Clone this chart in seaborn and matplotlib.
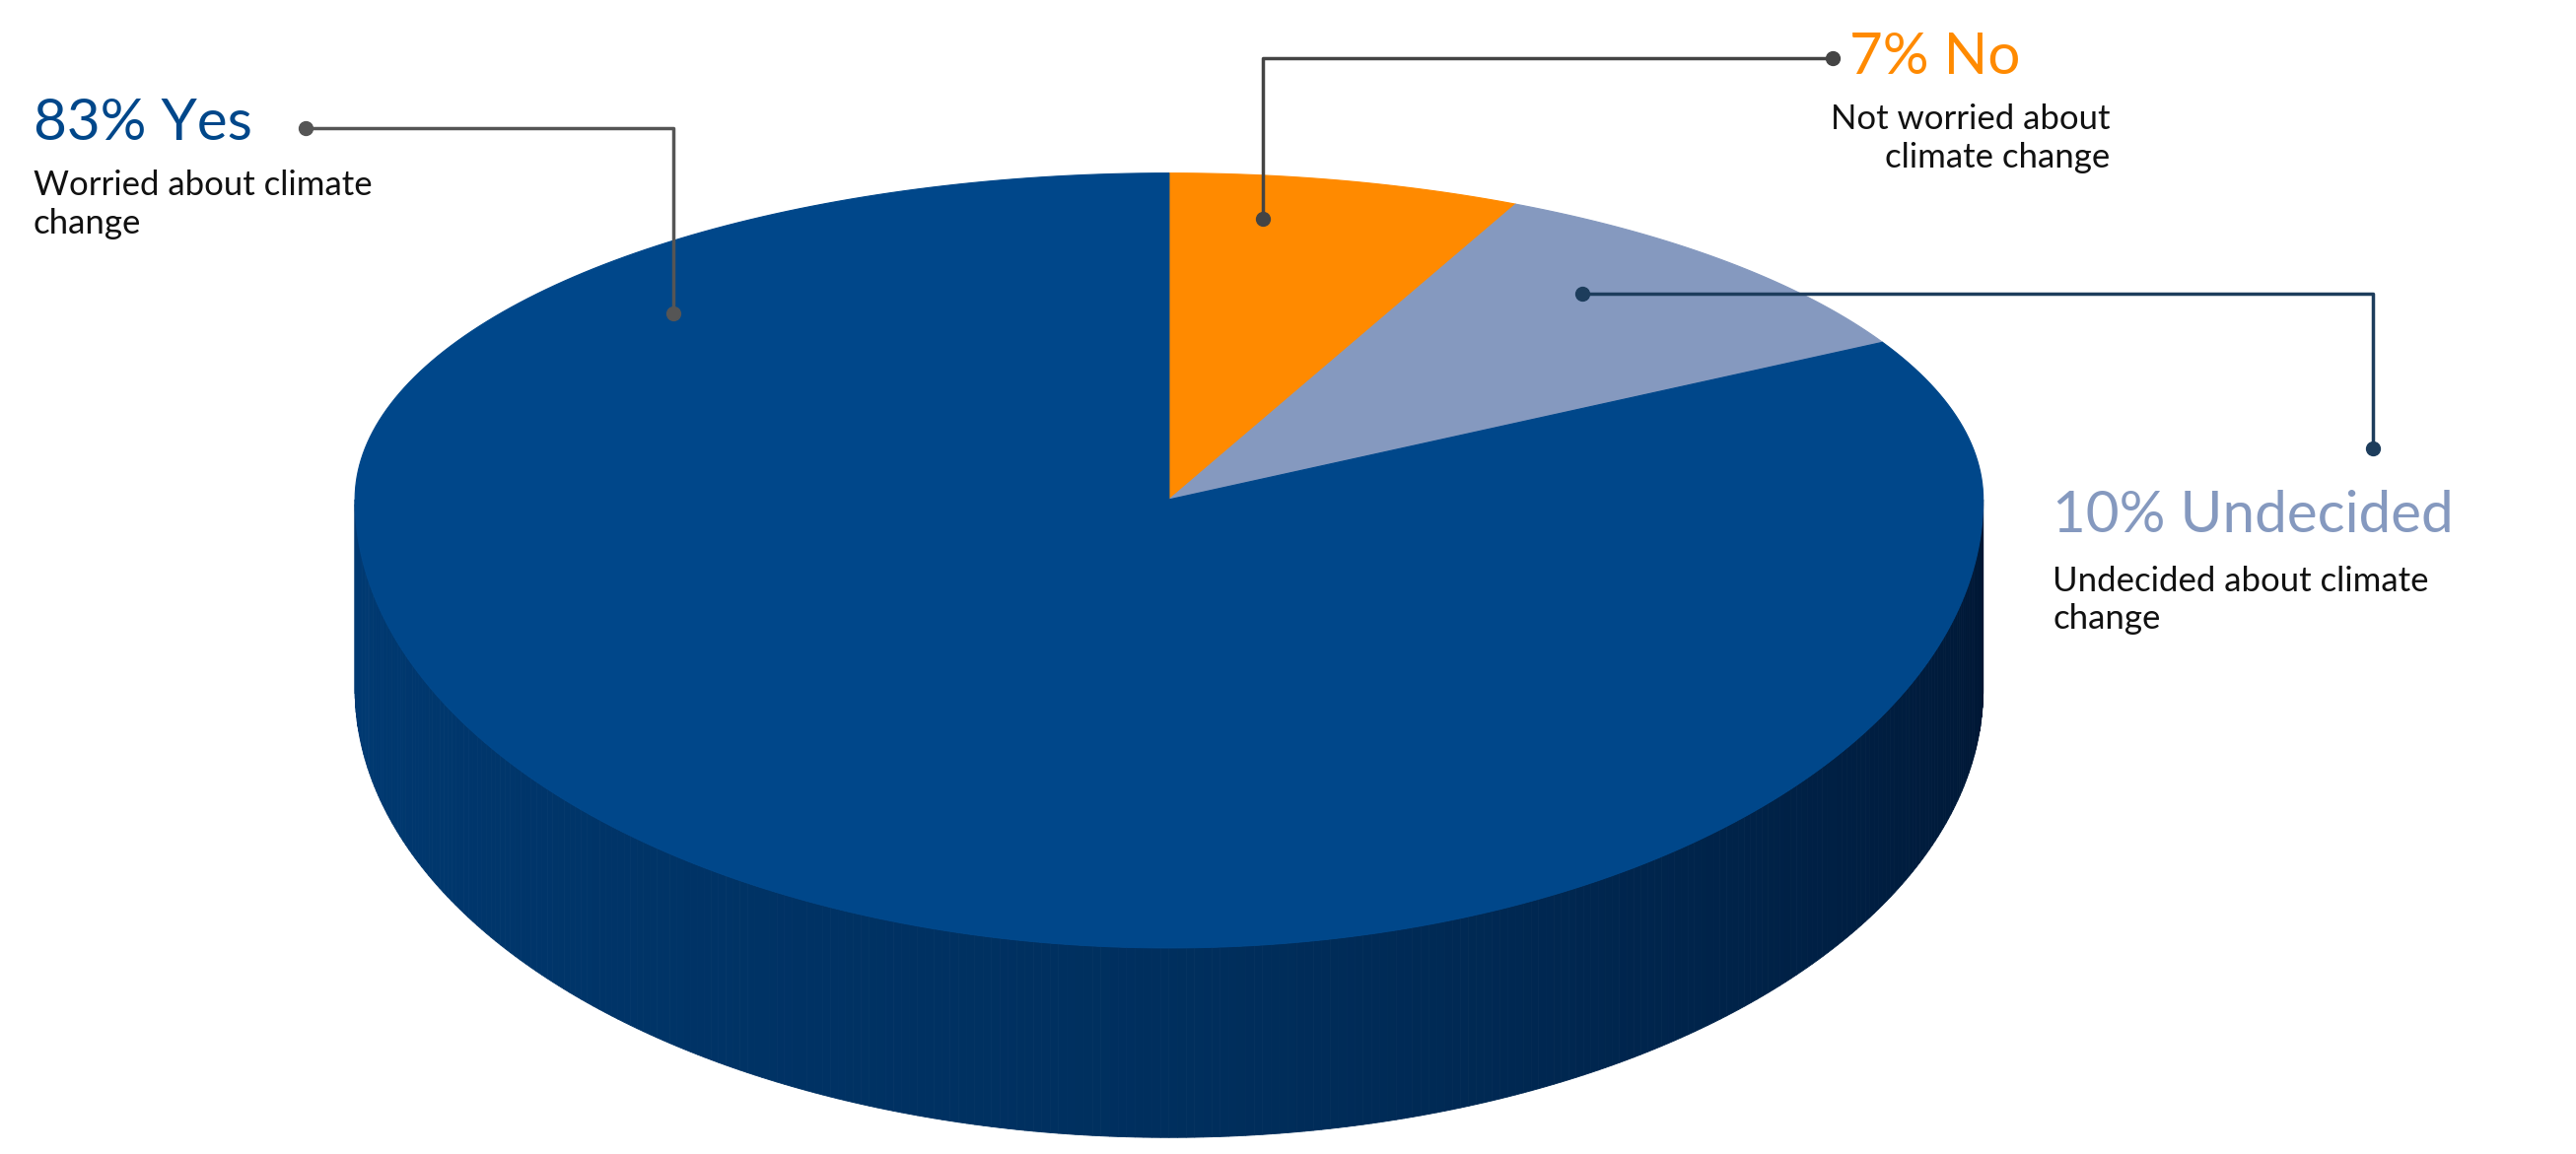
import numpy as np
import matplotlib
matplotlib.use('Agg')
import matplotlib.pyplot as plt
import seaborn as sns
from matplotlib.patches import Polygon

# data
categories = ['Yes', 'No', 'Undecided']
shares = [83, 7, 10]
headlines = ['83% Yes', '7% No', '10% Undecided']
subtexts = ['Worried about climate\nchange', 'Not worried about\nclimate change',
            'Undecided about climate\nchange']

sns.set_theme(style='white')
plt.rcParams['font.family'] = ['Lato', 'DejaVu Sans']

c_yes, c_no, c_und = '#00478a', '#ff8a00', '#8599bf'

fig = plt.figure(figsize=(26.13, 11.71), dpi=100)
ax = fig.add_axes([0, 0, 1, 1])
ax.set_xlim(0, 1560)
ax.set_ylim(700, 0)
ax.axis('off')

# perspective-ish ellipse: back half flatter than front half
cx, cy, rx, ry_top, ry_bot, depth = 708, 303, 493, 198, 272, 115
apex = (708, 303)

def ell(t):
    t = np.asarray(t)
    s = np.sin(t)
    return cx + rx * np.cos(t), cy - np.where(s > 0, ry_top, ry_bot) * s

# side band with left-to-right gradient
n = 300
ts = np.linspace(np.pi, 2 * np.pi, n + 1)
cmap = sns.blend_palette(['#003a73', '#002f5e', '#001633'], n_colors=n)
for i in range(n):
    x0, y0 = ell(ts[i]); x1, y1 = ell(ts[i + 1])
    ax.add_patch(Polygon([(x0, y0), (x1, y1), (x1, y1 + depth), (x0, y0 + depth)],
                         closed=True, color=cmap[i], lw=0.6))

# top face wedges, clockwise from 12 o'clock: No, Undecided, Yes
order = [(1, c_no), (2, c_und), (0, c_yes)]
start = np.pi / 2
for idx, col in order:
    span = shares[idx] / sum(shares) * 2 * np.pi
    t = np.linspace(start, start - span, 300)
    xs, ys = ell(t)
    pts = [apex] + list(zip(xs, ys))
    ax.add_patch(Polygon(pts, closed=True, color=col, lw=0.8))
    start -= span

# leader lines
def leader(pts, col):
    xs, ys = zip(*pts)
    ax.plot(xs, ys, color=col, lw=2.5)
    ax.plot([xs[0], xs[-1]], [ys[0], ys[-1]], 'o', color=col, ms=10)

leader([(185, 78), (408, 78), (408, 190)], '#555555')
leader([(765, 133), (765, 35), (1110, 35)], '#444444')
leader([(958, 178), (1437, 178), (1437, 272)], '#1d3d5c')

ax.text(20, 75, headlines[0], color=c_yes, fontsize=42, va='center', ha='left')
ax.text(20, 103, subtexts[0], color='#111111', fontsize=25, va='top', ha='left', linespacing=1.25)
ax.text(1120, 35, headlines[1], color=c_no, fontsize=42, va='center', ha='left')
ax.text(1278, 63, subtexts[1], color='#111111', fontsize=25, va='top', ha='right',
        multialignment='right', linespacing=1.25)
ax.text(1243, 313, headlines[2], color=c_und, fontsize=42, va='center', ha='left')
ax.text(1243, 343, subtexts[2], color='#111111', fontsize=25, va='top', ha='left', linespacing=1.25)

fig.savefig('out.png', dpi=100)
